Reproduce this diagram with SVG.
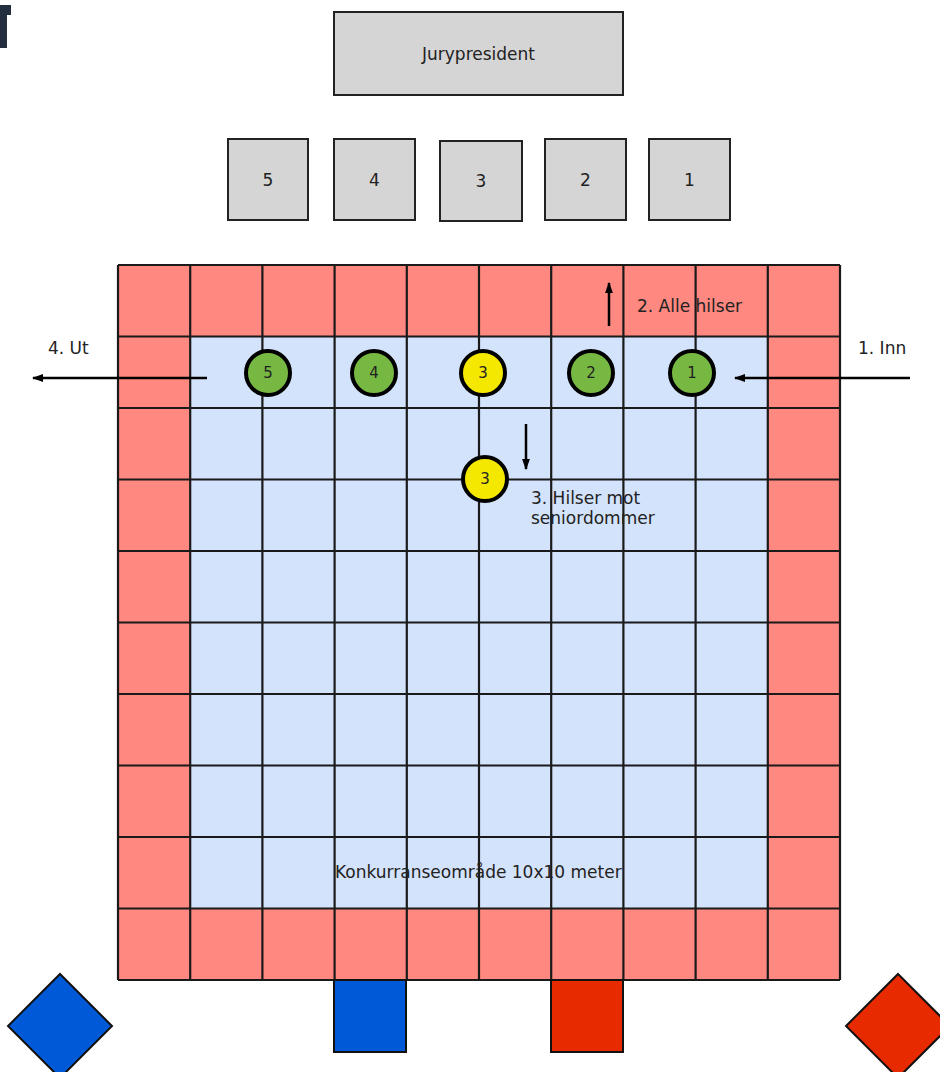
<svg xmlns="http://www.w3.org/2000/svg" width="940" height="1072" viewBox="0 0 940 1072">
<style>
text{font-family:"DejaVu Sans","Liberation Sans",sans-serif;fill:#222;}
.lbl{font-size:17px;}
.num{font-size:15px;text-anchor:middle;}
.box{fill:#d5d5d5;stroke:#222;stroke-width:2;}
.grid{stroke:#1a1a1a;stroke-width:2.2;fill:none;}
.green{fill:#77b843;stroke:#000;stroke-width:4;}
.yellow{fill:#f5e800;stroke:#000;stroke-width:4;}
.arr{stroke:#000;stroke-width:2.5;fill:none;}
</style>
<defs>
<marker id="ah" viewBox="0 0 10 10" refX="9" refY="5" markerWidth="4.6" markerHeight="4.6" orient="auto" markerUnits="strokeWidth">
<path d="M0,1.5 L10,5 L0,8.5 z" fill="#000"/>
</marker>
</defs>
<path d="M0,5 H11 V15 H7 V48 H0 Z" fill="#232f3e"/>
<g id="jurypresident"><rect class="box" x="334" y="12" width="289" height="83"/><text class="lbl" x="478.5" y="60" text-anchor="middle">Jurypresident</text></g>
<g id="judge5"><rect class="box" x="228" y="139" width="80" height="81"/><text class="lbl" x="268" y="186" text-anchor="middle">5</text></g>
<g id="judge4"><rect class="box" x="334" y="139" width="81" height="81"/><text class="lbl" x="374.5" y="186" text-anchor="middle">4</text></g>
<g id="judge3"><rect class="box" x="440" y="141" width="82" height="80"/><text class="lbl" x="481" y="187" text-anchor="middle">3</text></g>
<g id="judge2"><rect class="box" x="545" y="139" width="81" height="81"/><text class="lbl" x="585.5" y="186" text-anchor="middle">2</text></g>
<g id="judge1"><rect class="box" x="649" y="139" width="81" height="81"/><text class="lbl" x="689.5" y="186" text-anchor="middle">1</text></g>
<g id="area">
<rect x="118" y="265" width="722" height="715" fill="#ff8880"/>
<rect x="190.2" y="336.5" width="577.6" height="572" fill="#d4e3fc"/>
<path class="grid" d="M118,265V980M190.2,265V980M262.4,265V980M334.6,265V980M406.8,265V980M479,265V980M551.2,265V980M623.4,265V980M695.6,265V980M767.8,265V980M840,265V980M118,265H840M118,336.5H840M118,408H840M118,479.5H840M118,551H840M118,622.5H840M118,694H840M118,765.5H840M118,837H840M118,908.5H840M118,980H840"/>
<text class="lbl" x="335" y="878">Konkurranseområde 10x10 meter</text>
</g>
<g id="connectors">
<line class="arr" x1="910" y1="378" x2="735" y2="378" marker-end="url(#ah)"/>
<line class="arr" x1="207" y1="378" x2="33" y2="378" marker-end="url(#ah)"/>
<line class="arr" x1="609" y1="326" x2="609" y2="283" marker-end="url(#ah)"/>
<line class="arr" x1="526" y1="424" x2="526" y2="469" marker-end="url(#ah)"/>
</g>
<g id="labels">
<text class="lbl" x="858" y="354">1. Inn</text>
<text class="lbl" x="48" y="354">4. Ut</text>
<text class="lbl" x="637" y="312">2. Alle hilser</text>
<text class="lbl" x="531" y="504">3. Hilser mot</text>
<text class="lbl" x="531" y="524">seniordommer</text>
</g>
<g id="gymnast5"><circle class="green" cx="268" cy="373" r="22"/><text class="num" x="268" y="378">5</text></g>
<g id="gymnast4"><circle class="green" cx="374" cy="373" r="22"/><text class="num" x="374" y="378">4</text></g>
<g id="gymnast3"><circle class="yellow" cx="483" cy="373" r="22"/><text class="num" x="483" y="378">3</text></g>
<g id="gymnast2"><circle class="green" cx="591" cy="373" r="22"/><text class="num" x="591" y="378">2</text></g>
<g id="gymnast1"><circle class="green" cx="692" cy="373" r="22"/><text class="num" x="692" y="378">1</text></g>
<g id="gymnast3b"><circle class="yellow" cx="485" cy="479" r="22"/><text class="num" x="485" y="484">3</text></g>
<g id="blue-square"><rect x="334" y="980" width="72" height="72" fill="#005ad7" stroke="#111" stroke-width="2"/></g>
<g id="red-square"><rect x="551" y="980" width="72" height="72" fill="#e82a00" stroke="#111" stroke-width="2"/></g>
<g id="blue-diamond"><polygon points="60,974 112,1026 60,1078 8,1026" fill="#005ad7" stroke="#111" stroke-width="2"/></g>
<g id="red-diamond"><polygon points="898,974 950,1026 898,1078 846,1026" fill="#e82a00" stroke="#111" stroke-width="2"/></g>
</svg>
